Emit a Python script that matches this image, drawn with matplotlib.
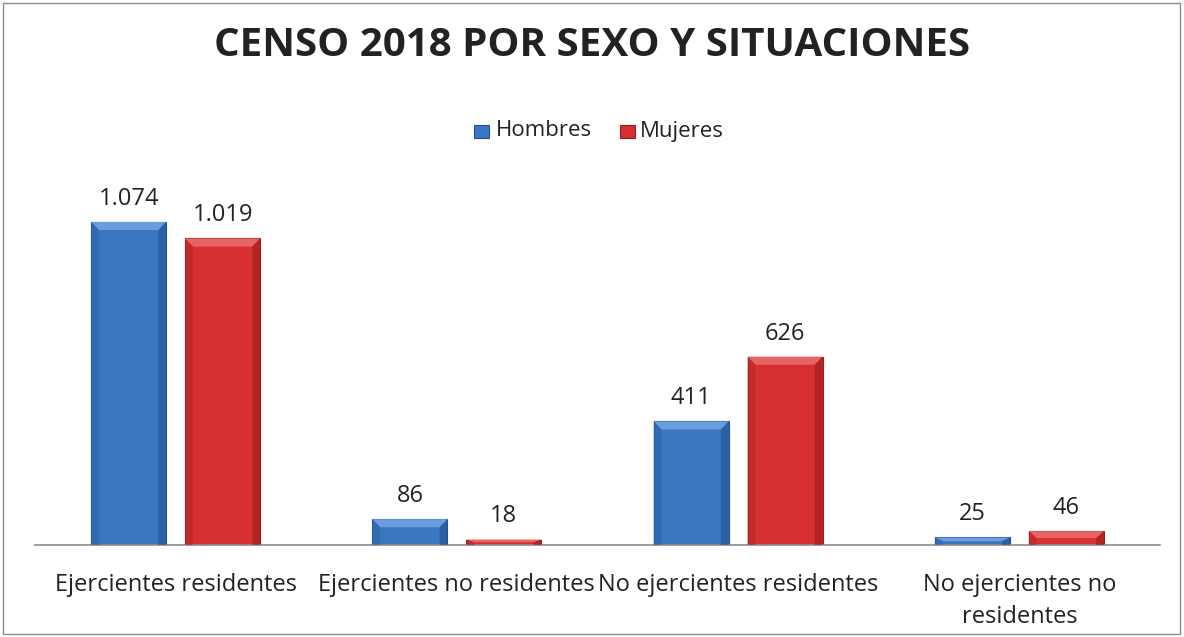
import numpy as np
import matplotlib.pyplot as plt
from matplotlib.patches import Polygon, Rectangle

categories = ["Ejercientes residentes", "Ejercientes no residentes",
              "No ejercientes residentes", "No ejercientes no\nresidentes"]
hombres = [1074, 86, 411, 25]
mujeres = [1019, 18, 626, 46]
labels_h = ["1.074", "86", "411", "25"]
labels_m = ["1.019", "18", "626", "46"]

plt.rcParams['font.family'] = ['Open Sans', 'DejaVu Sans']

fig = plt.figure(figsize=(11.84, 6.37), dpi=100)
ax = fig.add_axes([35/1184, 1-545/637, 1125/1184, (545-184)/637])

x = np.arange(len(categories))
w = 0.267
off = 0.167

blue = dict(main="#3a76c2", top="#6a9bdc", dark="#24518f", side="#2f64a8")
red = dict(main="#d63030", top="#e86464", dark="#9c1c1c", side="#b82626")

ax.set_xlim(-0.5, 3.5)
ax.set_ylim(0, 1200)

def bevel_bar(xc, h, c):
    x0, x1 = xc - w/2, xc + w/2
    ax.add_patch(Rectangle((x0, 0), w, h, facecolor=c["main"], edgecolor=c["dark"], lw=0.8, zorder=2))
    bh = min(27, h/2)
    bw = 0.028
    # top bevel
    ax.add_patch(Polygon([(x0, h), (x1, h), (x1 - bw, h - bh), (x0 + bw, h - bh)],
                         closed=True, facecolor=c["top"], edgecolor="none", zorder=3))
    # sides
    ax.add_patch(Polygon([(x0, h), (x0 + bw, h - bh), (x0 + bw, 0), (x0, 0)],
                         closed=True, facecolor=c["side"], edgecolor="none", alpha=0.6, zorder=3))
    ax.add_patch(Polygon([(x1, h), (x1 - bw, h - bh), (x1 - bw, 0), (x1, 0)],
                         closed=True, facecolor=c["dark"], edgecolor="none", alpha=0.6, zorder=3))

for i in range(len(categories)):
    bevel_bar(x[i] - off, hombres[i], blue)
    bevel_bar(x[i] + off, mujeres[i], red)
    ax.annotate(labels_h[i], (x[i] - off, hombres[i]), xytext=(0, 8), textcoords="offset points",
                ha="center", va="bottom", fontsize=17, color="#222222")
    ax.annotate(labels_m[i], (x[i] + off, mujeres[i]), xytext=(0, 8), textcoords="offset points",
                ha="center", va="bottom", fontsize=17, color="#222222")

ax.set_xticks(x)
ax.set_xticklabels(categories, fontsize=17, color="#222222", linespacing=1.45)
ax.tick_params(axis="x", length=0, pad=20)
ax.set_yticks([])
for s in ["top", "right", "left"]:
    ax.spines[s].set_visible(False)
ax.spines["bottom"].set_color("#8c8c8c")
ax.spines["bottom"].set_linewidth(1.2)

fig.text(0.5, 1-46/637, "CENSO 2018 POR SEXO Y SITUACIONES", ha="center", va="center",
         fontsize=29, fontweight="bold", color="#222222")

# legend
ly = 1-131/637
fig.patches.append(Rectangle((474/1184, ly - 7/637), 15/1184, 13/637, transform=fig.transFigure,
                             facecolor=blue["main"], edgecolor=blue["dark"], lw=0.8))
fig.text(496/1184, ly, "Hombres", ha="left", va="center", fontsize=16, color="#222222")
fig.patches.append(Rectangle((620/1184, ly - 7/637), 15/1184, 13/637, transform=fig.transFigure,
                             facecolor=red["main"], edgecolor=red["dark"], lw=0.8))
fig.text(640/1184, ly, "Mujeres", ha="left", va="center", fontsize=16, color="#222222")

# outer border
fig.patches.append(Rectangle((3/1184, 3/637), 1177/1184, 631/637, transform=fig.transFigure,
                             facecolor="none", edgecolor="#8c8c8c", lw=1))

fig.savefig("out.png", dpi=100)
